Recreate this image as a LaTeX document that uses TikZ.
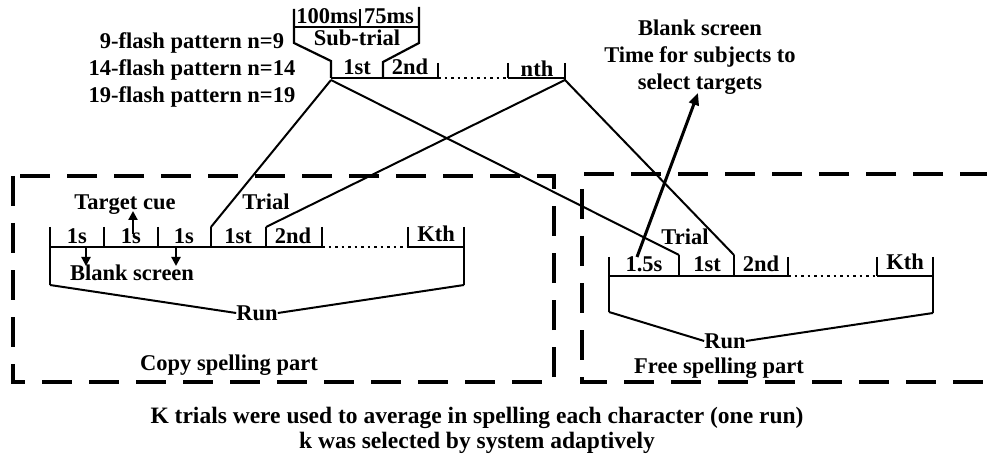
\documentclass[tikz,border=0pt]{standalone}
\usepackage{fontspec}
\setmainfont{Liberation Serif}
\usetikzlibrary{arrows.meta}
\begin{document}
\begin{tikzpicture}[x=1pt,y=-1pt,
  lbl/.style={font=\fontsize{22.5}{27}\selectfont\bfseries, inner sep=0pt},
  note/.style={font=\fontsize{22.5}{27}\selectfont\bfseries, inner sep=0pt, align=center},
  tl/.style={line width=2.2pt},
  conn/.style={line width=2pt},
  dotl/.style={line width=2.2pt, dash pattern=on 2.5pt off 4pt},
  partbox/.style={line width=4pt, dash pattern=on 30pt off 17pt},
  smallarr/.style={line width=2.2pt,-{Triangle[length=9pt,width=9pt]}},
  arr/.style={line width=3pt, -{Triangle[length=12pt,width=10pt]}}]
\useasboundingbox (0,0) rectangle (987,454);

% ---------- sub-trial (top) ----------
\draw[tl] (294,9)--(294,43)--(331,61)--(331,78);
\draw[tl] (419,7)--(419,43)--(383,62)--(383,78);
\draw[tl] (294,27)--(419,27);
\draw[tl] (360,9)--(360,27);
\draw[tl] (331,78)--(438,78);
\draw[dotl] (438,78)--(508,78);
\draw[tl] (508,78)--(565,78);
\draw[tl] (438,63)--(438,78);
\draw[tl] (508,63)--(508,78);
\draw[tl] (565,63)--(565,80);
\coordinate (s1) at (331,80);
\coordinate (sn) at (565,80);
\node[lbl] (t100) at (327,16) {100ms};
\node[lbl] (t75) at (389,16) {75ms};
\node[lbl] (subtrial) at (357,38) {Sub-trial};
\node[lbl] (u1st) at (357,67) {1st};
\node[lbl] (u2nd) at (410,67) {2nd};
\node[lbl] (unth) at (537,69) {nth};

\node[note] (patterns) at (192,70) {9-flash pattern n=9\\14-flash pattern n=14\\19-flash pattern n=19};
\node[note] (blanknote) at (700,57) {Blank screen\\Time for subjects to\\select targets};

% ---------- copy spelling timeline ----------
\draw[tl] (50,227)--(50,285);
\draw[tl] (50,247)--(322,247);
\draw[dotl] (322,247)--(408,247);
\draw[tl] (408,247)--(464,247);
\draw[tl] (464,227)--(464,285);
\foreach \xx in {104,158,211,266,322,408} \draw[tl] (\xx,227)--(\xx,247);
\coordinate (c1st) at (211,227);
\coordinate (c2nd) at (266,227);
\coordinate (cl) at (50,285);
\coordinate (cr) at (464,285);
\node[lbl] (a1) at (77,236) {1s};
\node[lbl] (a2) at (131,236) {1s};
\node[lbl] (a3) at (184,236) {1s};
\node[lbl] (a4) at (238,236) {1st};
\node[lbl] (a5) at (293,236) {2nd};
\node[lbl] (a6) at (436,234) {Kth};
\node[lbl] (cue) at (125,205) {Target cue};
\node[lbl] (blankL) at (132,273) {Blank screen};
\node[lbl] (trialL) at (266,202) {Trial};
\node[lbl] (runL) at (257,313) {Run};
\node[lbl] (copy) at (229,365) {Copy spelling part};
\coordinate (up0) at (133,234);
\coordinate (up1) at (133,211);
\coordinate (dn1a) at (86,247);
\coordinate (dn1b) at (86,266);
\coordinate (dn2a) at (176,247);
\coordinate (dn2b) at (176,266);
\draw[smallarr] (up0)--(up1);
\draw[smallarr] (dn1a)--(dn1b);
\draw[smallarr] (dn2a)--(dn2b);
\draw[conn] (cl)--(runL.west);
\draw[conn] (cr)--(runL.east);

% ---------- free spelling timeline ----------
\draw[tl] (609,257)--(609,312);
\draw[tl] (609,276)--(788,276);
\draw[dotl] (788,276)--(877,276);
\draw[tl] (877,276)--(933,276);
\draw[tl] (933,257)--(933,313);
\draw[tl] (679,255)--(679,276);
\draw[tl] (734,255)--(734,276);
\draw[tl] (788,257)--(788,276);
\draw[tl] (877,257)--(877,276);
\coordinate (f1) at (679,255);
\coordinate (f2) at (734,255);
\coordinate (fl) at (609,312);
\coordinate (fr) at (933,313);
\node[lbl] (b1) at (644,264) {1.5s};
\node[lbl] (b2) at (707,264) {1st};
\node[lbl] (b3) at (761,264) {2nd};
\node[lbl] (b4) at (905,262) {Kth};
\node[lbl] (trialR) at (685,237) {Trial};
\node[lbl] (runR) at (725,341) {Run};
\node[lbl] (free) at (719,368) {Free spelling part};
\draw[conn] (fl)--(runR.west);
\draw[conn] (fr)--(runR.east);
\coordinate (ba0) at (637,257);
\coordinate (ba1) at (698,93);
\draw[arr] (ba0)--(ba1);

% ---------- trial expansion lines ----------
\draw[conn] (s1)--(c1st);
\draw[conn] (sn)--(c2nd);
\draw[conn] (s1)--(f1);
\draw[conn] (sn)--(f2);

% ---------- dashed part boxes ----------
\draw[partbox] (13,176) rectangle (554,382);
\draw[partbox] (990,174)--(582,174)--(582,382)--(990,382);

% ---------- bottom notes ----------
\node[note, font=\fontsize{23.5}{25}\selectfont\bfseries] (bottom) at (477,430) {K trials were used to average in spelling each character (one run)\\k was selected by system adaptively};
\end{tikzpicture}
\end{document}
